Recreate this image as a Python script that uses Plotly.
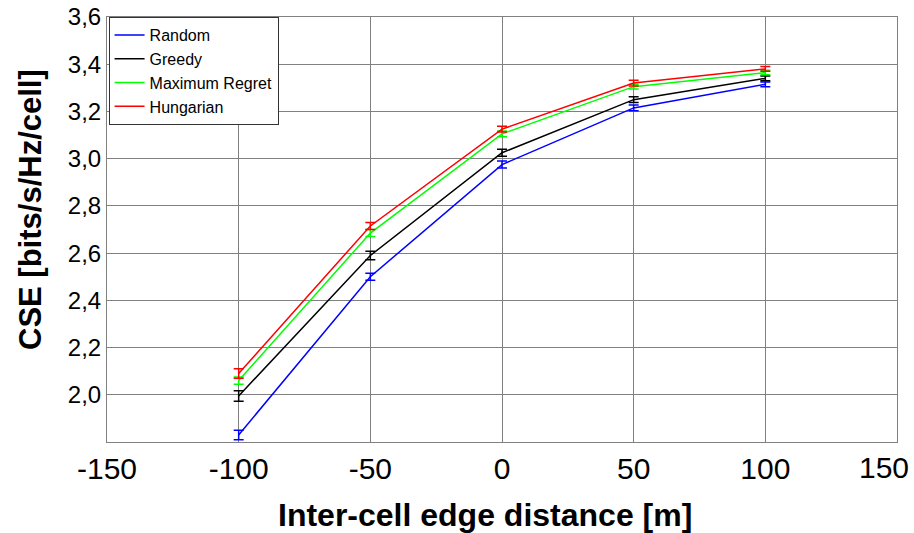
import plotly.graph_objects as go

x_vals = [-100, -50, 0, 50, 100]

random_vals = [1.83, 2.50, 2.975, 3.215, 3.315]
random_err = [0.02, 0.015, 0.015, 0.012, 0.01]

greedy_vals = [1.995, 2.59, 3.025, 3.25, 3.34]
greedy_err = [0.022, 0.018, 0.015, 0.012, 0.01]

maxregret_vals = [2.06, 2.685, 3.105, 3.305, 3.365]
maxregret_err = [0.015, 0.015, 0.012, 0.01, 0.01]

hungarian_vals = [2.09, 2.715, 3.125, 3.32, 3.38]
hungarian_err = [0.02, 0.015, 0.012, 0.012, 0.01]

series = [
    ("Random", random_vals, random_err, "#0000ff"),
    ("Greedy", greedy_vals, greedy_err, "#000000"),
    ("Maximum Regret", maxregret_vals, maxregret_err, "#00ff00"),
    ("Hungarian", hungarian_vals, hungarian_err, "#ff0000"),
]

y_ticks = [2.0, 2.2, 2.4, 2.6, 2.8, 3.0, 3.2, 3.4, 3.6]
x_ticks = [-150, -100, -50, 0, 50, 100, 150]
x_tick_labels = ["-150", "-100", "-50", "0", "50", "100", "150"]

fig = go.Figure()
for name, vals, err, color in series:
    fig.add_trace(go.Scatter(
        x=x_vals, y=vals, name=name, mode="lines",
        line=dict(color=color, width=1.5),
        error_y=dict(type="data", array=err, visible=True, color=color,
                     thickness=1.5, width=5),
    ))

# last tick label is drawn right-aligned so it stays inside the page
shown_labels = x_tick_labels[:-1] + [""]

fig.update_layout(
    width=914, height=533,
    margin=dict(l=107, r=17, t=17, b=91, autoexpand=False),
    paper_bgcolor="white", plot_bgcolor="white",
    separators=",.",
    font=dict(family="Liberation Sans, Arial, sans-serif", color="black"),
    showlegend=True,
    legend=dict(
        x=0.002, y=1.0, xanchor="left", yanchor="top",
        bgcolor="white", bordercolor="#333333", borderwidth=1,
        font=dict(size=16, color="black"),
        itemwidth=30, tracegroupgap=0,
    ),
    xaxis=dict(
        range=[-150, 150], tickvals=x_ticks, ticktext=shown_labels,
        showgrid=True, gridcolor="#808080", gridwidth=1,
        showline=True, linecolor="#808080", linewidth=1, mirror=True,
        zeroline=False, ticks="", automargin=False,
        ticklabeloverflow="allow",
        tickfont=dict(size=30, color="black"),
    ),
    yaxis=dict(
        range=[1.8, 3.6], tickvals=y_ticks, tickformat=".1f",
        showgrid=True, gridcolor="#808080", gridwidth=1,
        showline=True, linecolor="#808080", linewidth=1, mirror=True,
        zeroline=False, ticks="", automargin=False,
        ticklabeloverflow="allow",
        tickfont=dict(size=24, color="black"),
    ),
    annotations=[
        dict(text=x_tick_labels[-1], xref="x", yref="paper",
             x=x_ticks[-1], y=0, xanchor="right", yanchor="top",
             xshift=14, yshift=-7, showarrow=False,
             font=dict(size=30, color="black")),
        dict(text="<b>Inter-cell edge distance [m]</b>", xref="paper", yref="paper",
             x=(485 - 107) / 790, y=-(515 - 442) / 425, xanchor="center", yanchor="middle",
             showarrow=False, font=dict(size=32, color="black")),
        dict(text="<b>CSE [bits/s/Hz/cell]</b>", xref="paper", yref="paper",
             x=-(107 - 30) / 790, y=(442 - 210) / 425, xanchor="center", yanchor="middle",
             textangle=-90, showarrow=False, font=dict(size=31, color="black")),
    ],
)

fig.write_html("out.html")
